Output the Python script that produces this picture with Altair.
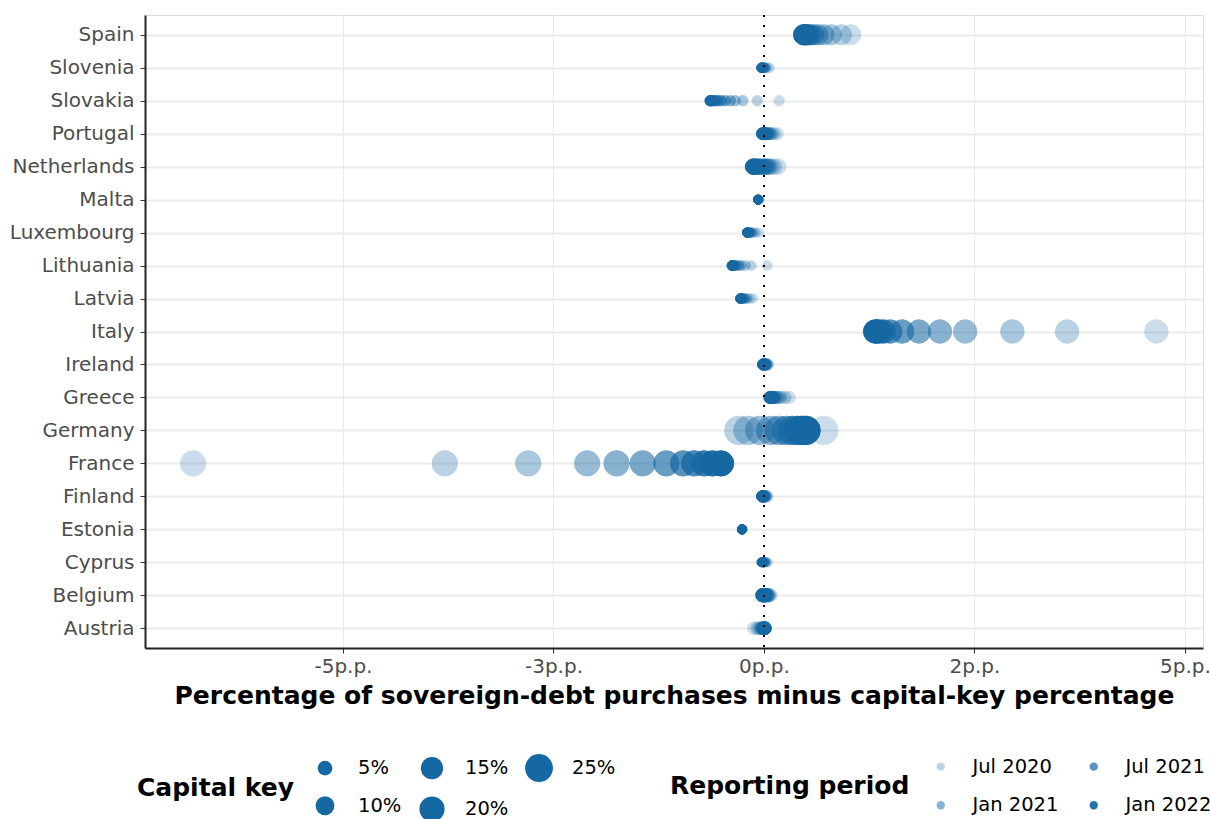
import altair as alt
import pandas as pd

# ---- data ----
countries = ["Spain", "Slovenia", "Slovakia", "Portugal", "Netherlands", "Malta",
             "Luxembourg", "Lithuania", "Latvia", "Italy", "Ireland", "Greece",
             "Germany", "France", "Finland", "Estonia", "Cyprus", "Belgium", "Austria"]

capital_key = [0.11933, 0.004868, 0.011008, 0.023121, 0.05832, 0.001057,
               0.003287, 0.005836, 0.003775, 0.169885, 0.016999, 0.02506,
               0.263615, 0.203767, 0.018143, 0.002837, 0.002081, 0.036432, 0.029658]

periods = ["2020-05-01T00:00:00", "2020-07-01T00:00:00", "2020-09-01T00:00:00",
           "2020-11-01T00:00:00", "2021-01-01T00:00:00", "2021-03-01T00:00:00",
           "2021-05-01T00:00:00", "2021-07-01T00:00:00", "2021-09-01T00:00:00",
           "2021-11-01T00:00:00", "2022-01-01T00:00:00", "2022-03-01T00:00:00"]

spain = [1.03, 0.92, 0.80, 0.71, 0.64, 0.59, 0.55, 0.52, 0.50, 0.49, 0.48, 0.47]
slovenia = [0.07, 0.04, 0.02, 0.01, 0.0, -0.01, -0.01, -0.02, -0.02, -0.02, -0.03, -0.03]
slovakia = [0.18, -0.08, -0.25, -0.34, -0.40, -0.46, -0.51, -0.55, -0.58, -0.61, -0.63, -0.64]
portugal = [0.16, 0.12, 0.09, 0.07, 0.05, 0.04, 0.03, 0.02, 0.01, 0.0, -0.01, -0.02]
netherlands = [0.17, 0.12, 0.08, 0.05, 0.03, 0.01, -0.02, -0.05, -0.08, -0.10, -0.12, -0.13]
malta = [-0.05, -0.06, -0.06, -0.07, -0.07, -0.07, -0.07, -0.07, -0.07, -0.07, -0.07, -0.07]
luxembourg = [-0.06, -0.10, -0.13, -0.15, -0.16, -0.17, -0.18, -0.19, -0.19, -0.20, -0.20, -0.20]
lithuania = [0.04, -0.15, -0.22, -0.27, -0.30, -0.33, -0.35, -0.36, -0.37, -0.38, -0.38, -0.38]
latvia = [-0.13, -0.17, -0.20, -0.22, -0.24, -0.25, -0.26, -0.27, -0.27, -0.28, -0.28, -0.28]
italy = [4.66, 3.60, 2.95, 2.39, 2.09, 1.84, 1.64, 1.50, 1.42, 1.37, 1.34, 1.32]
ireland = [0.05, 0.04, 0.03, 0.02, 0.02, 0.01, 0.01, 0.0, 0.0, -0.01, -0.01, -0.01]
greece = [0.30, 0.25, 0.20, 0.17, 0.14, 0.12, 0.11, 0.10, 0.09, 0.08, 0.08, 0.07]
germany = [0.71, -0.30, -0.19, -0.05, 0.08, 0.18, 0.27, 0.34, 0.40, 0.44, 0.47, 0.50]
france = [-6.78, -3.79, -2.80, -2.10, -1.75, -1.44, -1.16, -0.96, -0.83, -0.71, -0.61, -0.51]
finland = [0.04, 0.03, 0.02, 0.01, 0.0, 0.0, -0.01, -0.01, -0.01, -0.02, -0.02, -0.02]
estonia = [-0.25, -0.26, -0.26, -0.26, -0.26, -0.26, -0.26, -0.26, -0.26, -0.26, -0.26, -0.26]
cyprus = [0.05, 0.03, 0.02, 0.01, 0.0, 0.0, -0.01, -0.01, -0.02, -0.02, -0.02, -0.03]
belgium = [0.08, 0.06, 0.05, 0.04, 0.03, 0.02, 0.01, 0.0, 0.0, -0.01, -0.01, -0.02]
austria = [-0.12, -0.08, -0.05, -0.03, -0.02, -0.01, 0.0, 0.0, 0.01, 0.01, 0.01, 0.01]

series = [spain, slovenia, slovakia, portugal, netherlands, malta, luxembourg,
          lithuania, latvia, italy, ireland, greece, germany, france, finland,
          estonia, cyprus, belgium, austria]

tick_values = [-5, -2.5, 0, 2.5, 5]
tick_labels = ["-5p.p.", "-3p.p.", "0p.p.", "2p.p.", "5p.p."]

key_legend_values = [0.05, 0.15, 0.25, 0.10, 0.20]
period_legend = [(2020, 7), (2021, 7), (2021, 1), (2022, 1)]

# ---- build table ----
rows = []
for c, k, vals in zip(countries, capital_key, series):
    for p, v in zip(periods, vals):
        rows.append({"country": c, "key": k, "period": p, "gap": v})
df = pd.DataFrame(rows)

COLOR = "#1668a3"
FONT = "DejaVu Sans"

label_expr = " : ".join(
    f"datum.value == {v} ? '{l}'" for v, l in zip(tick_values, tick_labels)
) + " : ''"

x_scale = alt.Scale(domain=[-7.351, 5.214], nice=False, zero=False)

points = alt.Chart(df).mark_circle(color=COLOR, stroke=COLOR, strokeWidth=1).encode(
    x=alt.X("gap:Q", scale=x_scale,
            axis=alt.Axis(values=tick_values, labelExpr=label_expr,
                          title="Percentage of sovereign-debt purchases minus capital-key percentage",
                          grid=True, gridColor="#ebebeb", gridWidth=1,
                          domainColor="#222222", domainWidth=2,
                          tickColor="#333333", tickSize=5,
                          labelFontSize=20, labelColor="#4d4d4d", labelFont=FONT,
                          labelPadding=3,
                          titleFontSize=25, titleFont=FONT, titleFontWeight="bold",
                          titleColor="black", titlePadding=7)),
    y=alt.Y("country:N", sort=countries,
            scale=alt.Scale(type="point", padding=0.6),
            axis=alt.Axis(title=None, grid=True, gridColor="#ebebeb", gridWidth=2,
                          domainColor="#222222", domainWidth=2,
                          tickColor="#333333", tickSize=5,
                          labelFontSize=20, labelColor="#4d4d4d", labelFont=FONT,
                          labelPadding=6)),
    size=alt.Size("key:Q",
                  scale=alt.Scale(domain=[0.001, 0.264], range=[79, 814], zero=False),
                  legend=alt.Legend(title="Capital key", orient="none",
                                    legendX=-8, legendY=739,
                                    direction="horizontal", columns=3,
                                    titleOrient="left", titleAnchor="middle",
                                    titleBaseline="middle",
                                    values=key_legend_values, format=".0%",
                                    symbolFillColor=COLOR, symbolStrokeColor=COLOR,
                                    symbolOpacity=1, symbolStrokeWidth=0,
                                    labelFontSize=19.5, labelFont=FONT, labelColor="black",
                                    titleFontSize=25, titleFont=FONT, titleFontWeight="bold",
                                    titleColor="black", titlePadding=17, titleLimit=400,
                                    columnPadding=16, rowPadding=13, labelOffset=19)),
    opacity=alt.Opacity("period:T", scale=alt.Scale(range=[0.22, 1]),
                        legend=alt.Legend(title="Reporting period", orient="none",
                                          legendX=525, legendY=741.5,
                                          direction="horizontal", columns=2,
                                          titleOrient="left", titleAnchor="middle",
                                          titleBaseline="middle",
                                          values=[alt.DateTime(year=y, month=m, date=1)
                                                  for y, m in period_legend],
                                          format="%b %Y",
                                          symbolFillColor=COLOR, symbolStrokeWidth=0,
                                          symbolSize=70,
                                          labelFontSize=19.5, labelFont=FONT, labelColor="black",
                                          titleFontSize=25, titleFont=FONT,
                                          titleFontWeight="bold", titleColor="black",
                                          titlePadding=21, titleLimit=400,
                                          columnPadding=25, rowPadding=18, labelOffset=22)),
    order=alt.Order("period:T"),
)

zero_line = alt.Chart(pd.DataFrame({"gap": [0]})).mark_rule(
    color="black", strokeWidth=2, strokeDash=[2, 8]
).encode(x=alt.X("gap:Q", scale=x_scale))

chart = alt.layer(points, zero_line).properties(
    width=1058, height=633,
    autosize=alt.AutoSizeParams(type="none"),
    padding={"left": 145, "top": 15, "right": 7, "bottom": 171},
).configure_view(stroke=None).configure(background="white")

chart.save("out.html", embed_options={"renderer": "svg", "actions": False})
